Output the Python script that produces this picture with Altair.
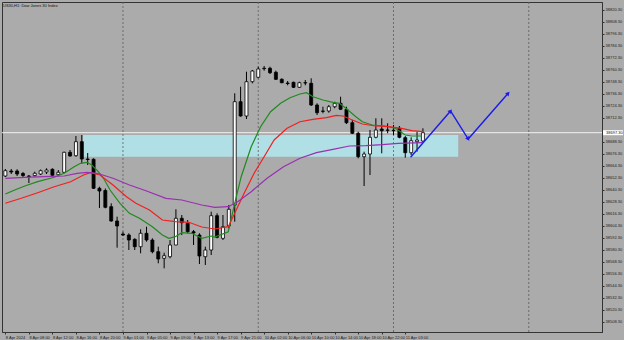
import json
import math
import altair as alt
import pandas as pd

# ---------------- data ----------------
title_text = "US30,H1:  Dow Jones 30 Index"

bar_index = list(range(72))
open_ = [38654.0, 38659.0, 38659.0, 38656.5, 38654.0, 38654.4, 38656.0, 38658.0, 38660.7, 38655.3,
         38657.7, 38677.7, 38674.3, 38688.3, 38671.0, 38670.7, 38641.7, 38639.5, 38623.3, 38609.0,
         38596.0, 38595.0, 38590.7, 38583.3, 38596.7, 38590.0, 38578.3, 38571.7, 38573.3, 38585.0,
         38611.7, 38606.7, 38598.3, 38595.0, 38573.3, 38580.0, 38614.3, 38591.7, 38604.0, 38625.0,
         38728.3, 38714.0, 38748.3, 38752.7, 38761.7, 38761.7, 38757.7, 38750.7, 38747.0, 38747.7,
         38742.7, 38747.3, 38746.7, 38725.0, 38719.0, 38719.0, 38723.3, 38726.7, 38720.7, 38707.3,
         38696.7, 38673.3, 38676.0, 38692.7, 38701.0, 38700.0, 38699.7, 38701.7, 38692.3, 38677.3,
         38688.3, 38689.0]
high = [38661.0, 38661.0, 38660.7, 38658.0, 38655.0, 38658.3, 38660.5, 38661.7, 38661.7, 38660.0,
        38678.3, 38680.0, 38694.0, 38695.0, 38677.0, 38671.7, 38643.3, 38641.5, 38626.7, 38613.3,
        38598.3, 38596.7, 38591.7, 38600.7, 38603.3, 38591.7, 38583.3, 38577.3, 38590.0, 38620.7,
        38615.0, 38610.0, 38600.0, 38596.7, 38583.3, 38618.3, 38616.7, 38615.0, 38625.0, 38736.7,
        38743.3, 38758.3, 38760.0, 38763.3, 38764.0, 38763.3, 38759.3, 38751.7, 38749.0, 38748.3,
        38748.3, 38750.0, 38751.7, 38726.7, 38723.3, 38725.0, 38728.3, 38733.3, 38723.3, 38710.0,
        38698.3, 38678.3, 38700.0, 38711.7, 38711.7, 38706.7, 38705.0, 38704.0, 38694.0, 38692.7,
        38698.3, 38701.7]
low = [38653.0, 38656.0, 38654.0, 38653.0, 38647.0, 38653.3, 38655.0, 38656.0, 38654.0, 38654.7,
       38657.0, 38673.3, 38673.3, 38666.7, 38665.0, 38641.0, 38622.0, 38621.7, 38608.3, 38582.3,
       38594.0, 38580.0, 38580.0, 38576.7, 38588.3, 38576.7, 38566.7, 38561.7, 38571.7, 38585.0,
       38595.0, 38596.7, 38585.0, 38566.0, 38565.0, 38575.0, 38591.7, 38590.0, 38601.7, 38608.3,
       38713.3, 38711.0, 38746.7, 38751.7, 38759.3, 38756.0, 38750.0, 38746.7, 38744.7, 38742.0,
       38742.0, 38744.7, 38724.0, 38715.0, 38716.7, 38717.3, 38721.7, 38720.0, 38706.0, 38696.0,
       38671.7, 38644.0, 38655.0, 38691.7, 38676.7, 38696.7, 38695.0, 38691.7, 38672.3, 38675.0,
       38678.3, 38688.3]
close = [38659.3, 38658.0, 38656.0, 38654.5, 38653.5, 38656.7, 38659.3, 38660.0, 38654.7, 38657.7,
         38677.7, 38674.0, 38688.3, 38671.0, 38670.5, 38641.7, 38639.0, 38622.7, 38609.0, 38604.0,
         38595.0, 38590.0, 38583.3, 38596.7, 38590.0, 38578.3, 38571.0, 38574.3, 38585.0, 38611.7,
         38607.3, 38598.3, 38597.0, 38574.0, 38580.0, 38614.3, 38592.7, 38603.3, 38620.7, 38728.3,
         38714.0, 38748.3, 38759.0, 38761.0, 38761.3, 38757.3, 38750.7, 38747.3, 38746.5, 38742.7,
         38747.3, 38747.0, 38725.0, 38717.3, 38718.7, 38723.3, 38726.7, 38720.7, 38707.3, 38696.7,
         38673.3, 38676.0, 38692.7, 38700.0, 38699.3, 38699.7, 38699.3, 38692.7, 38677.3, 38689.3,
         38690.0, 38697.3]

# moving averages
green_k = [0, 1.6, 3.3, 5.5, 8.3, 10, 11.7, 12.8, 13.9, 14.7, 15.8, 16.7, 17.8, 19.5, 21.1, 22.8,
           25, 26.7, 27.8, 28.9, 30, 31.7, 33.4, 35.0, 35.6, 37.9, 39, 40.1, 41.8, 43.4, 45.1, 46.8,
           48.4, 50.1, 51.2, 52.3, 54, 55.7, 56.8, 57.9, 59.6, 60.7, 62.4, 64.6, 66.3, 68, 69.1, 70.8]
green_v = [38636.0, 38640.0, 38644.0, 38648.3, 38652.7, 38656.7, 38663.3, 38666.7, 38667.7, 38665.0,
           38658.3, 38651.7, 38640.0, 38626.7, 38616.7, 38611.7, 38603.3, 38595.0, 38591.7, 38593.3,
           38597.3, 38596.7, 38591.7, 38594.0, 38593.0, 38598.3, 38626.7, 38653.3, 38683.3, 38703.3,
           38718.3, 38726.7, 38732.3, 38736.0, 38737.3, 38733.3, 38730.0, 38727.7, 38726.7, 38721.7,
           38713.3, 38708.3, 38705.0, 38704.0, 38701.7, 38695.0, 38694.0, 38694.0]
red_k = [0, 2.7, 5.5, 8.3, 11.1, 13.3, 14.4, 16.1, 18.3, 20.6, 22.2, 24.5, 26.7, 28.9, 31.2, 33.4,
         35.6, 37.9, 39, 40.6, 42.3, 44, 45.7, 47.9, 50.1, 52.3, 54.6, 56.3, 57.4, 59, 60.7, 62.9,
         65.2, 67.4, 69.1, 71]
red_v = [38626.7, 38631.7, 38637.3, 38643.3, 38648.3, 38655.0, 38657.3, 38655.0, 38645.0, 38633.3,
         38626.7, 38620.0, 38610.0, 38608.3, 38607.7, 38603.0, 38601.0, 38603.3, 38616.7, 38636.7,
         38656.7, 38673.3, 38690.0, 38701.7, 38708.3, 38710.7, 38712.3, 38714.7, 38714.0, 38710.0,
         38706.0, 38704.0, 38703.3, 38701.7, 38699.3, 38698.3]
purple_k = [0, 3.3, 6.6, 10, 12.2, 13.9, 15.6, 18.3, 21.1, 23.9, 27.3, 30, 33.4, 35.6, 37.9, 39.5,
            41.8, 44.5, 47.3, 50.1, 52.9, 55.7, 58.5, 61.3, 64.1, 66.8, 71]
purple_v = [38651.7, 38652.7, 38653.3, 38654.0, 38656.7, 38657.7, 38656.7, 38651.7, 38645.0, 38639.3,
            38631.7, 38630.0, 38625.0, 38622.7, 38623.3, 38628.3, 38638.3, 38651.7, 38663.3, 38671.7,
            38677.3, 38680.7, 38684.0, 38684.3, 38685.3, 38686.7, 38687.3]

# drawn objects
zone_k = [13.2, 77.0]
zone_price = [38673.3, 38695.0]
arrow_k = [68.9, 75.7, 78.7, 85.5]
arrow_price = [38672.7, 38719.0, 38691.0, 38736.7]
separator_k = [20, 43, 66, 89]
bid_price = 38697.3

xtick_k = [0, 4, 8, 12, 16, 20, 24, 28, 32, 36, 40, 44, 48, 52, 56, 60, 64, 68]
xtick_labels = ["8 Apr 2024", "8 Apr 08:00", "8 Apr 12:00", "8 Apr 16:00", "8 Apr 20:00",
                "9 Apr 01:00", "9 Apr 05:00", "9 Apr 09:00", "9 Apr 13:00", "9 Apr 17:00",
                "9 Apr 21:00", "10 Apr 02:00", "10 Apr 06:00", "10 Apr 10:00", "10 Apr 14:00",
                "10 Apr 18:00", "10 Apr 22:00", "11 Apr 03:00"]
ytick_values = [38508.3, 38520.3, 38532.3, 38544.3, 38556.3, 38568.3, 38580.3, 38592.3, 38604.3,
                38616.3, 38628.3, 38640.3, 38652.3, 38664.3, 38676.3, 38688.3, 38712.3,
                38724.3, 38736.3, 38748.3, 38760.3, 38772.3, 38784.3, 38796.3, 38808.3, 38820.3]

# ---------------- style ----------------
BG = "#ababab"
FONT = "Liberation Sans"
W, H = 600, 330
X_DOMAIN = [0.28, 100.6]
Y_DOMAIN = [38498.0, 38828.0]

candles = pd.DataFrame({"k": bar_index, "open": open_, "high": high, "low": low, "close": close})
ma = pd.concat([
    pd.DataFrame({"k": green_k, "v": green_v, "s": "fast"}),
    pd.DataFrame({"k": red_k, "v": red_v, "s": "mid"}),
    pd.DataFrame({"k": purple_k, "v": purple_v, "s": "slow"}),
])
zone = pd.DataFrame({"k0": [zone_k[0]], "k1": [zone_k[1]], "p0": [zone_price[0]], "p1": [zone_price[1]]})
arrow = pd.DataFrame({"k": arrow_k, "p": arrow_price, "o": list(range(len(arrow_k)))})
# arrowhead rotation from the segment direction in screen pixels
pxk = W / (X_DOMAIN[1] - X_DOMAIN[0])
pxp = H / (Y_DOMAIN[1] - Y_DOMAIN[0])
angles = [0.0]
for i in range(1, len(arrow_k)):
    dx = (arrow_k[i] - arrow_k[i - 1]) * pxk
    dy = (arrow_price[i] - arrow_price[i - 1]) * pxp
    angles.append((math.degrees(math.atan2(dx, dy)) + 360) % 360)
arrow["ang"] = angles
heads = arrow.iloc[1:]
seps = pd.DataFrame({"k": separator_k})
bid = pd.DataFrame({"p": [bid_price], "lbl": [f"{bid_price:.2f}"]})
ttl = pd.DataFrame({"t": [title_text]})

xsc = alt.Scale(domain=X_DOMAIN, nice=False, zero=False)
ysc = alt.Scale(domain=Y_DOMAIN, nice=False, zero=False)
label_expr = json.dumps(xtick_labels) + "[round(datum.value / 4)]"
xaxis = alt.Axis(values=xtick_k, labelExpr=label_expr, title=None, grid=False, tickSize=2,
                 labelFontSize=4, labelFont=FONT, labelColor="#222", labelAlign="left",
                 labelPadding=1, labelOverlap=False, labelFlush=False, labelBound=False,
                 domainColor="#333", tickColor="#333", orient="bottom")
yaxis = alt.Axis(values=ytick_values, format=".2f", title=None, grid=False, tickSize=2,
                 labelFontSize=4, labelFont=FONT, labelColor="#222", labelPadding=1,
                 labelOverlap=False, labelFlush=False, domainColor="#333", tickColor="#333",
                 orient="right")


def X(f):
    return alt.X(f, type="quantitative", scale=xsc, axis=xaxis)


def Y(f):
    return alt.Y(f, type="quantitative", scale=ysc, axis=yaxis)


zone_layer = alt.Chart(zone).mark_rect(color="#b0e0e6", clip=True).encode(
    x=X("k0"), x2="k1", y=Y("p0"), y2="p1")
sep_layer = alt.Chart(seps).mark_rule(color="#5a5a5a", strokeDash=[2, 2], strokeWidth=0.8).encode(x=X("k"))
bid_layer = alt.Chart(bid).mark_rule(color="#f2f2f2", strokeWidth=1).encode(y=Y("p"))
wick_layer = alt.Chart(candles).mark_rule(color="black", strokeWidth=1, clip=True).encode(
    x=X("k"), y=Y("low"), y2="high")
body_layer = alt.Chart(candles).mark_bar(size=3, stroke="black", strokeWidth=0.8, clip=True).encode(
    x=X("k"), y=Y("open"), y2="close",
    fill=alt.condition("datum.close >= datum.open", alt.value("white"), alt.value("black")))
ma_layer = alt.Chart(ma).mark_line(strokeWidth=1.2, clip=True).encode(
    x=X("k"), y=Y("v"),
    color=alt.Color("s:N", scale=alt.Scale(domain=["fast", "mid", "slow"],
                                           range=["#1f8a1f", "#f02020", "#9a2fb0"]), legend=None))
arrow_line = alt.Chart(arrow).mark_line(color="#1c1ce6", strokeWidth=1.4).encode(
    x=X("k"), y=Y("p"), order="o:Q")
arrow_heads = alt.Chart(heads).mark_point(shape="triangle-up", filled=True, size=22,
                                          color="#1c1ce6", opacity=1).encode(
    x=X("k"), y=Y("p"), angle=alt.Angle("ang:Q", scale=None))
bid_box = alt.Chart(bid).mark_rule(color="white", strokeWidth=5, clip=False).encode(
    x=alt.value(601), x2=alt.value(621), y=Y("p"))
bid_text = alt.Chart(bid).mark_text(align="left", baseline="middle", fontSize=4, font=FONT,
                                    color="#111", clip=False).encode(
    x=alt.value(604), y=Y("p"), text="lbl:N")
title_layer = alt.Chart(ttl).mark_text(align="left", baseline="middle", fontSize=4, font=FONT,
                                       color="#111").encode(
    x=alt.value(1), y=alt.value(4), text="t:N")

chart = alt.layer(
    zone_layer, sep_layer, bid_layer, wick_layer, body_layer, ma_layer,
    arrow_line, arrow_heads, bid_box, bid_text, title_layer
).properties(
    width=W, height=H, background=BG, autosize="none",
    padding={"left": 2, "top": 2, "right": 22, "bottom": 8},
).configure_view(stroke="#333", strokeWidth=1, fill=BG)

chart.save("out.html", embed_options={"renderer": "svg", "actions": False})
